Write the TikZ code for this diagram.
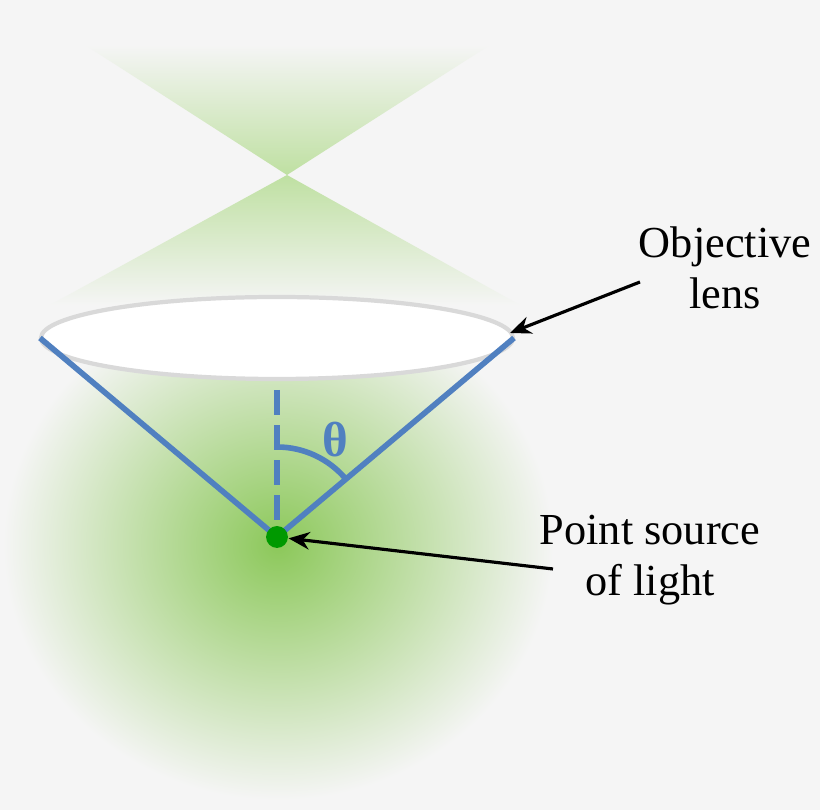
\documentclass[tikz,border=0pt]{standalone}
\usetikzlibrary{arrows.meta}
\usepackage{fontspec}
\setmainfont{Liberation Serif}
\begin{document}
\begin{tikzpicture}[x=0.01cm,y=-0.01cm,
  blueline/.style={draw=lblue,line width=1.6pt},
  arr/.style={draw=black,line width=0.9pt,-{Stealth[length=6pt,width=5pt]}},
  lbl/.style={font=\fontsize{12.6}{14.5}\selectfont,align=center}]
\definecolor{bg}{HTML}{F5F5F5}
\definecolor{glow}{HTML}{8CC85A}
\definecolor{cone}{HTML}{BFE0A2}
\definecolor{lblue}{HTML}{5080C0}
\useasboundingbox (0,0) rectangle (820,810);
\fill[bg] (0,0) rectangle (820,810);
\shade[inner color=glow,outer color=bg] (278,545) ellipse [x radius=275,y radius=255];
% cones
\shade[top color=bg,bottom color=cone] (85,45) -- (490,45) -- (287,175) -- cycle;
\shade[top color=cone,bottom color=bg] (287,175) -- (520,305) -- (50,305) -- cycle;
% lens
\draw[gray!30,line width=1.2pt,fill=white] (277,338) ellipse [x radius=236,y radius=41];
\coordinate (lensR) at (510,333);
% lines
\coordinate (P) at (277,537);
\coordinate (L) at (40,338);
\coordinate (R) at (514,338);
\draw[blueline] (L) -- (P) -- (R);
\draw[blueline,dashed,dash pattern=on 7pt off 3pt] (277,390) -- (P);
\draw[blueline] (P) ++(-90:90) arc[start angle=-90,end angle=-40,radius=90];
\node[text=lblue,font=\fontsize{14}{14}\selectfont\bfseries] (theta) at (335,440) {θ};
\node[circle,fill=green!60!black,inner sep=2.2pt] (dot) at (P) {};
% labels
\node[lbl] (obj) at (725,268) {Objective\\lens};
\node[lbl] (src) at (650,560) {Point source\\of light};
\coordinate (a1) at (640,282);
\coordinate (a2) at (553,569);
\draw[arr] (a1) -- (lensR);
\draw[arr] (a2) -- (dot);
\end{tikzpicture}
\end{document}
